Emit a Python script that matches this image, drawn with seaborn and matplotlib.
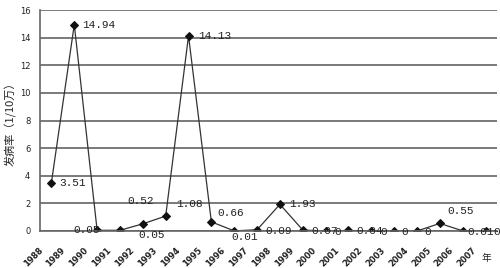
import matplotlib
matplotlib.use("Agg")
import matplotlib.pyplot as plt
import matplotlib.transforms as mtransforms
import seaborn as sns
import pandas as pd
import numpy as np

years = ["1988", "1989", "1990", "1991", "1992", "1993", "1994", "1995", "1996", "1997",
         "1998", "1999", "2000", "2001", "2002", "2003", "2004", "2005", "2006", "2007"]
rates = [3.51, 14.94, 0.05, 0.05, 0.52, 1.08, 14.13, 0.66, 0.01, 0.09,
         1.93, 0.07, 0, 0.04, 0, 0, 0, 0.55, 0.01, 0]
y_ticks = [0, 2, 4, 6, 8, 10, 12, 14, 16]
y_label = "发病率（1/10万）"
x_unit = "年"

# label offsets in pixels (dx, dy; dy positive = up) — style only
label_offsets = [(8, 0), (8, 0), (-24, 0), (18, -5), (-15, 23), (11, 12), (10, 0), (6, 9),
                 (-3, -6), (8, -1), (9, 0), (9, -1), (9, -1), (8, -1), (9, -1), (7, -1),
                 (7, -1), (7, 12), (5, -1), (8, -1)]

sns.set_style("white")
plt.rcParams['font.family'] = ['DejaVu Sans']

fig = plt.figure(figsize=(5.0, 2.68), dpi=100)
ax = fig.add_axes([40 / 500, 1 - 231 / 268, 457 / 500, 221 / 268])

df = pd.DataFrame({"pos": np.arange(len(years)), "rate": rates})
sns.lineplot(data=df, x="pos", y="rate", ax=ax, color="#333333", linewidth=0.9,
             marker="D", markersize=4, markeredgecolor="#111111",
             markerfacecolor="#111111")

ax.set_xlim(-0.5, len(years) - 0.5)
ax.set_ylim(0, 16)
ax.set_yticks(y_ticks)
ax.set_yticklabels([str(t) for t in y_ticks], fontsize=6, color="#222222")
ax.yaxis.grid(True, color="#7a7a7a", linewidth=1.4)
ax.set_axisbelow(True)

ax.set_xticks(np.arange(len(years)))
ax.set_xticks(np.arange(len(years) + 1) - 0.5, minor=True)
ax.tick_params(axis="x", which="major", length=0, pad=2)
ax.tick_params(axis="x", which="minor", direction="in", length=2, color="#555555")
ax.tick_params(axis="y", direction="out", length=3, color="#555555", pad=4)
ax.set_xticklabels(years, rotation=45, ha="right", fontsize=6, color="#222222",
                   fontweight="bold")

for side in ["top", "right"]:
    ax.spines[side].set_visible(False)
for side in ["left", "bottom"]:
    ax.spines[side].set_color("#666666")
    ax.spines[side].set_linewidth(1.2)

ax.set_xlabel("")
ax.set_ylabel(y_label, family=["Noto Sans CJK SC", "DejaVu Sans"], fontsize=8,
              color="#222222")
ax.yaxis.set_label_coords((17 - 40) / 457, (231 - 121) / 221)

for i, (v, (dx, dy)) in enumerate(zip(rates, label_offsets)):
    ax.annotate(f"{v:g}", xy=(i, v), xytext=(dx * 0.72, dy * 0.72),
                textcoords="offset points", ha="left", va="center",
                fontsize=8, family="Liberation Mono", color="#222222",
                annotation_clip=False)

fig.text(486 / 500, 1 - 258 / 268, x_unit, family=["Noto Sans CJK SC"], fontsize=7,
         ha="center", va="center", color="#222222")

offset = mtransforms.ScaledTranslation(-7 / 100, -12 / 100, fig.dpi_scale_trans)
for lbl in ax.get_xticklabels():
    lbl.set_transform(lbl.get_transform() + offset)

fig.savefig("out.png", dpi=100)
